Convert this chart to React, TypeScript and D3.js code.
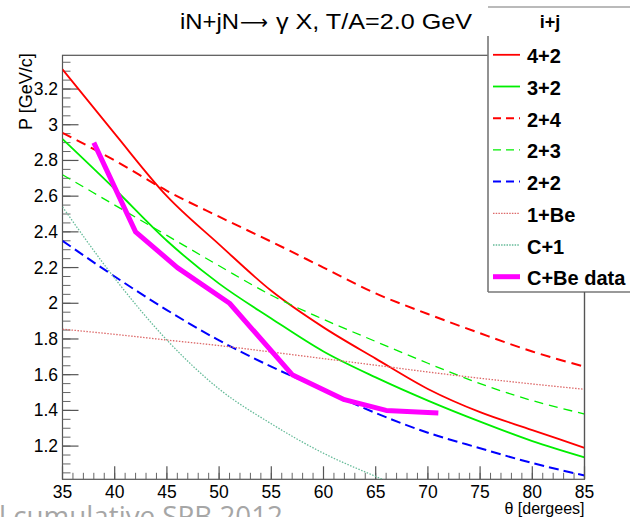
import React from "react";
import * as d3 from "d3";

const thetaGrid = [35, 40, 45, 50, 55, 60, 65, 70, 75, 80, 85];
const p42 = [3.31, 2.95, 2.6, 2.33, 2.07, 1.865, 1.69, 1.52, 1.39, 1.29, 1.19];
const p32 = [2.92, 2.64, 2.35, 2.11, 1.915, 1.73, 1.585, 1.455, 1.337, 1.228, 1.137];
const p24 = [2.955, 2.8, 2.63, 2.485, 2.345, 2.2, 2.055, 1.94, 1.832, 1.73, 1.645];
const p23 = [2.72, 2.55, 2.38, 2.21, 2.045, 1.91, 1.786, 1.664, 1.55, 1.455, 1.38];
const p22 = [2.35, 2.15, 1.962, 1.792, 1.645, 1.515, 1.385, 1.275, 1.188, 1.105, 1.035];
const p1Be = [1.855, 1.826, 1.794, 1.763, 1.727, 1.69, 1.653, 1.615, 1.58, 1.548, 1.518];
const thetaC1 = [35, 40, 45, 50, 55, 60, 65, 66];
const pC1 = [2.54, 2.14, 1.794, 1.52, 1.325, 1.16, 1.03, 1.005];
const thetaData = [38, 42, 46, 51, 57, 62, 66, 71];
const pData = [2.9, 2.4, 2.2, 2.0, 1.6, 1.46, 1.4, 1.385];

const xTicks = [35, 40, 45, 50, 55, 60, 65, 70, 75, 80, 85];
const yTicks = [1.2, 1.4, 1.6, 1.8, 2, 2.2, 2.4, 2.6, 2.8, 3, 3.2];

const series = [
  { name: "4+2", xs: thetaGrid, ys: p42, color: "#ff0000", width: 1.8, dash: null, smooth: true },
  { name: "3+2", xs: thetaGrid, ys: p32, color: "#00ee00", width: 1.8, dash: null, smooth: true },
  { name: "2+4", xs: thetaGrid, ys: p24, color: "#ff0000", width: 2, dash: "10,6", smooth: true },
  { name: "2+3", xs: thetaGrid, ys: p23, color: "#00ee00", width: 1.3, dash: "9,6", smooth: true },
  { name: "2+2", xs: thetaGrid, ys: p22, color: "#0000ff", width: 2, dash: "10,5", smooth: true },
  { name: "1+Be", xs: thetaGrid, ys: p1Be, color: "#dd6a6a", width: 1.3, dash: "1.5,1.5", smooth: true },
  { name: "C+1", xs: thetaC1, ys: pC1, color: "#66bb99", width: 1.3, dash: "1.5,1.5", smooth: true },
  { name: "C+Be data", xs: thetaData, ys: pData, color: "#ff00ff", width: 5, dash: null, smooth: false },
];

const FONT = "'Liberation Sans', Arial, Helvetica, sans-serif";

export default function App() {
  const L = 62.5, R = 584.5, T = 55.3, B = 479.3;
  const x = d3.scaleLinear().domain([35, 85]).range([L, R]);
  const y = d3.scaleLinear().domain([1.014, 3.389]).range([B, T]);

  const xMinor = d3.range(35, 85.01, 1);
  const yMinor = d3.range(1.05, 3.39, 0.05);

  const mkLine = (smooth: boolean) =>
    d3
      .line<[number, number]>()
      .x((d) => x(d[0]))
      .y((d) => y(d[1]))
      .curve(smooth ? d3.curveMonotoneX : d3.curveLinear);

  const legX = 488, legTop = 7, legBottom = 292;
  const entryBase = 63.3, entryStep = 31.7;

  return (
    <svg width={630} height={517} style={{ position: "absolute", left: 0, top: 0, background: "#fff" }}>
      <defs>
        <clipPath id="plotclip">
          <rect x={L} y={T} width={R - L} height={B - T} />
        </clipPath>
      </defs>
      <rect x={0} y={0} width={630} height={517} fill="#fff" />
      {/* frame */}
      <rect x={L} y={T} width={R - L} height={B - T} fill="none" stroke="#555" strokeWidth={1.2} />
      {/* y ticks */}
      {yMinor.map((v, i) => (
        <line key={"ym" + i} x1={L} x2={L + 8} y1={y(v)} y2={y(v)} stroke="#666" strokeWidth={1} />
      ))}
      {yTicks.map((v) => (
        <g key={"y" + v}>
          <line x1={L} x2={L + 16} y1={y(v)} y2={y(v)} stroke="#555" strokeWidth={1.2} />
          <text x={58} y={y(v) + 6} textAnchor="end" fontFamily={FONT} fontSize={17.5} fill="#000">
            {String(v)}
          </text>
        </g>
      ))}
      {/* x ticks */}
      {xMinor.map((v, i) => (
        <line key={"xm" + i} x1={x(v)} x2={x(v)} y1={B} y2={B - 6.5} stroke="#666" strokeWidth={1} />
      ))}
      {xTicks.map((v) => (
        <g key={"x" + v}>
          <line x1={x(v)} x2={x(v)} y1={B} y2={B - 13} stroke="#555" strokeWidth={1.2} />
          <text x={x(v)} y={498} textAnchor="middle" fontFamily={FONT} fontSize={17.5} fill="#000">
            {String(v)}
          </text>
        </g>
      ))}
      {/* curves */}
      <g clipPath="url(#plotclip)">
        {series.map((s) => (
          <path
            key={s.name}
            d={mkLine(s.smooth)(s.xs.map((t, i) => [t, s.ys[i]] as [number, number])) || ""}
            fill="none"
            stroke={s.color}
            strokeWidth={s.width}
            strokeDasharray={s.dash || undefined}
            strokeLinejoin="round"
          />
        ))}
      </g>
      {/* axis titles */}
      <text
        transform={`translate(32,${T - 2}) rotate(-90)`}
        textAnchor="end"
        fontFamily={FONT}
        fontSize={18}
        fill="#000"
      >
        P [GeV/c]
      </text>
      <text x={R} y={514} textAnchor="end" fontFamily={FONT} fontSize={16} fill="#000">
        θ [dergees]
      </text>
      {/* title */}
      <g fontFamily={FONT} fontSize={22} fill="#000">
        <text x={180} y={28.5} textLength={59} lengthAdjust="spacingAndGlyphs">iN+jN</text>
        <text x={240} y={28.5} fontFamily="'DejaVu Sans', sans-serif" fontSize={20} textLength={28} lengthAdjust="spacingAndGlyphs">⟶</text>
        <text x={276} y={28.5} textLength={196} lengthAdjust="spacingAndGlyphs">γ X, T/A=2.0 GeV</text>
      </g>
      {/* legend */}
      <rect x={legX} y={legTop} width={160} height={legBottom - legTop} fill="#fff" stroke="none" />
      <line x1={legX} x2={632} y1={legTop} y2={legTop} stroke="#777" strokeWidth={1.2} />
      <line x1={legX} x2={legX} y1={36} y2={legBottom} stroke="#777" strokeWidth={1.6} />
      <line x1={legX} x2={632} y1={legBottom} y2={legBottom} stroke="#777" strokeWidth={1.6} />
      <line x1={R} x2={R} y1={legBottom} y2={B} stroke="#555" strokeWidth={1.2} />
      <text x={550} y={28} textAnchor="middle" fontFamily={FONT} fontWeight="bold" fontSize={18} fill="#000">
        i+j
      </text>
      {series.map((s, i) => {
        const by = entryBase + i * entryStep;
        return (
          <g key={"leg" + s.name}>
            <line
              x1={493}
              x2={520}
              y1={by - 8.5}
              y2={by - 8.5}
              stroke={s.color}
              strokeWidth={s.width}
              strokeDasharray={s.dash ? (s.dash.startsWith("1.5") ? "1.5,1.2" : "8,5") : undefined}
            />
            <text x={527} y={by} fontFamily={FONT} fontWeight="bold" fontSize={20} fill="#000">
              {s.name}
            </text>
          </g>
        );
      })}
      {/* overlay slide text */}
      <text x={-1} y={526} fontFamily="'Open Sans', 'Noto Sans', sans-serif" fontSize={27} fill="#a6a6a6" textLength={284} lengthAdjust="spacingAndGlyphs">
        l cumulative SPB 2012
      </text>
    </svg>
  );
}
